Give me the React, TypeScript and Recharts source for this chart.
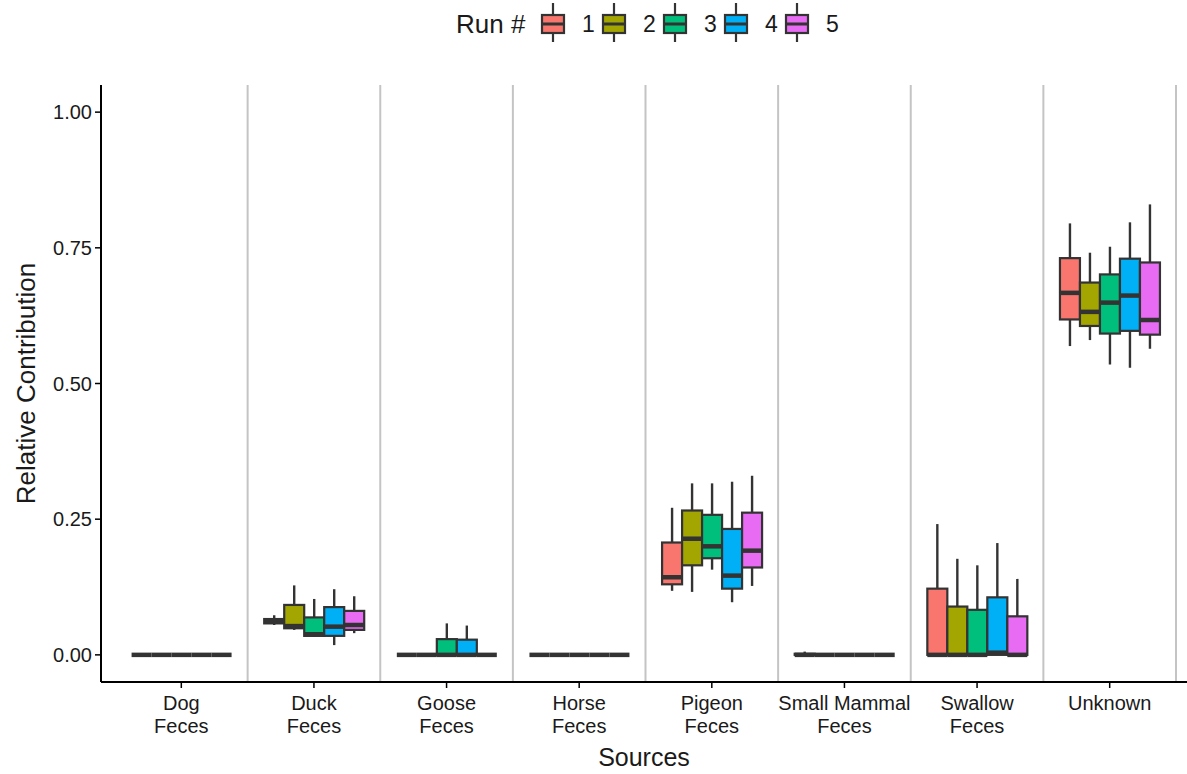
import React from "react";
import { ComposedChart, Bar, XAxis, YAxis, ReferenceLine } from "recharts";

const sources = [
  "Dog\nFeces",
  "Duck\nFeces",
  "Goose\nFeces",
  "Horse\nFeces",
  "Pigeon\nFeces",
  "Small Mammal\nFeces",
  "Swallow\nFeces",
  "Unknown",
];

const runs = ["1", "2", "3", "4", "5"];
const runColors = ["#F8766D", "#A3A500", "#00BF7D", "#00B0F6", "#E76BF3"];

// [min, q1, median, q3, max] per source, one list per run
const run1 = [
  [0, 0, 0, 0, 0],
  [0.055, 0.058, 0.062, 0.066, 0.073],
  [0, 0, 0, 0, 0],
  [0, 0, 0, 0, 0],
  [0.118, 0.13, 0.143, 0.207, 0.271],
  [0, 0, 0, 0.002, 0.006],
  [0, 0, 0, 0.122, 0.241],
  [0.569, 0.618, 0.667, 0.731, 0.795],
];
const run2 = [
  [0, 0, 0, 0, 0],
  [0.046, 0.049, 0.053, 0.092, 0.128],
  [0, 0, 0, 0, 0],
  [0, 0, 0, 0, 0],
  [0.116, 0.165, 0.214, 0.266, 0.316],
  [0, 0, 0, 0, 0],
  [0, 0, 0, 0.089, 0.177],
  [0.58, 0.606, 0.632, 0.686, 0.741],
];
const run3 = [
  [0, 0, 0, 0, 0],
  [0.033, 0.035, 0.038, 0.069, 0.103],
  [0, 0, 0, 0.029, 0.058],
  [0, 0, 0, 0, 0],
  [0.157, 0.178, 0.2, 0.258, 0.316],
  [0, 0, 0, 0, 0],
  [0, 0, 0, 0.083, 0.165],
  [0.535, 0.592, 0.649, 0.701, 0.752],
];
const run4 = [
  [0, 0, 0, 0, 0],
  [0.018, 0.035, 0.052, 0.088, 0.121],
  [0, 0, 0, 0.028, 0.054],
  [0, 0, 0, 0, 0],
  [0.097, 0.122, 0.146, 0.232, 0.319],
  [0, 0, 0, 0, 0],
  [0, 0, 0.004, 0.106, 0.206],
  [0.529, 0.597, 0.662, 0.73, 0.797],
];
const run5 = [
  [0, 0, 0, 0, 0],
  [0.04, 0.046, 0.055, 0.081, 0.108],
  [0, 0, 0, 0, 0],
  [0, 0, 0, 0, 0],
  [0.127, 0.161, 0.192, 0.262, 0.33],
  [0, 0, 0, 0, 0],
  [0, 0, 0, 0.071, 0.14],
  [0.564, 0.59, 0.617, 0.723, 0.83],
];

const runStats = [run1, run2, run3, run4, run5];
const yTicks = [0, 0.25, 0.5, 0.75, 1];
const Y_MIN = -0.05;
const Y_MAX = 1.05;

const EDGE = "#333333";
const TEXT = "#1a1a1a";
const FONT = "'Liberation Sans', Arial, Helvetica, sans-serif";

const data = sources.map((source, i) => {
  const row: Record<string, any> = { source };
  runStats.forEach((stats, r) => {
    row[`r${r}`] = stats[i];
  });
  return row;
});

function BoxShape(props: any) {
  const { x, y, width, height, payload, run, fill } = props;
  const [mn, q1, md, q3, mx] = payload[`r${run}`] as number[];
  const span = mx - Y_MIN;
  const py = (v: number) => y + (height * (mx - v)) / span;
  const cx = x + width / 2;
  const top = py(q3);
  const bottom = py(q1);
  return (
    <g>
      {mx > q3 && <line x1={cx} x2={cx} y1={py(mx)} y2={top} stroke={EDGE} strokeWidth={2.4} />}
      {q1 > mn && <line x1={cx} x2={cx} y1={bottom} y2={py(mn)} stroke={EDGE} strokeWidth={2.4} />}
      {bottom - top > 0.5 && (
        <rect x={x} y={top} width={width} height={bottom - top} fill={fill} stroke={EDGE} strokeWidth={2.2} />
      )}
      <line x1={x} x2={x + width} y1={py(md)} y2={py(md)} stroke={EDGE} strokeWidth={4.5} />
    </g>
  );
}

function SourceTick({ x, y, payload }: any) {
  const lines = String(payload.value).split("\n");
  return (
    <text x={x} y={y} textAnchor="middle" fontSize={20} fill={TEXT} fontFamily={FONT}>
      {lines.map((l, k) => (
        <tspan key={k} x={x} dy={k === 0 ? 20 : 23}>
          {l}
        </tspan>
      ))}
    </text>
  );
}

function YTitle({ viewBox }: any) {
  const cy = viewBox.y + viewBox.height / 2;
  return (
    <text
      x={26}
      y={cy}
      transform={`rotate(-90, 26, ${cy})`}
      textAnchor="middle"
      dominantBaseline="central"
      fontSize={26}
      fill={TEXT}
      fontFamily={FONT}
    >
      Relative Contribution
    </text>
  );
}

function RunLegend() {
  return (
    <svg width={1187} height={50} style={{ position: "absolute", left: 0, top: 0 }}>
      <text x={456} y={33} fontSize={26} fill={TEXT} fontFamily={FONT}>
        Run #
      </text>
      {runs.map((r, i) => {
        const kx = 542 + i * 61;
        return (
          <g key={r}>
            <line x1={kx + 11} x2={kx + 11} y1={3} y2={42} stroke={EDGE} strokeWidth={2.2} />
            <rect x={kx} y={15} width={22} height={18} fill={runColors[i]} stroke={EDGE} strokeWidth={2.2} />
            <line x1={kx} x2={kx + 22} y1={24} y2={24} stroke={EDGE} strokeWidth={3} />
            <text x={kx + 40} y={32} fontSize={23} fill={TEXT} fontFamily={FONT}>
              {r}
            </text>
          </g>
        );
      })}
    </svg>
  );
}

export default function App() {
  return (
    <div
      style={{
        position: "absolute",
        left: 0,
        top: 0,
        width: 1187,
        height: 774,
        background: "#ffffff",
        fontFamily: FONT,
        overflow: "hidden",
      }}
    >
      <ComposedChart
        width={1187}
        height={774}
        data={data}
        margin={{ top: 85, right: 0, bottom: 0, left: 0 }}
        barCategoryGap="12.5%"
        barGap={0}
      >
        {sources.map((s) => (
          <ReferenceLine key={s} x={s} position="end" stroke="#c4c4c4" strokeWidth={2} />
        ))}
        <XAxis
          dataKey="source"
          height={92}
          padding={{ left: 14, right: 11 }}
          interval={0}
          tickSize={6}
          tickMargin={2}
          axisLine={{ stroke: "#000", strokeWidth: 2 }}
          tickLine={{ stroke: "#000", strokeWidth: 1.5 }}
          tick={<SourceTick />}
          label={{ value: "Sources", position: "insideBottom", offset: 8, fontSize: 25, fill: TEXT }}
        />
        <YAxis
          type="number"
          width={101}
          domain={[Y_MIN, Y_MAX]}
          ticks={yTicks}
          interval={0}
          allowDataOverflow
          tickFormatter={(v: number) => v.toFixed(2)}
          tickSize={6}
          tickMargin={3}
          axisLine={{ stroke: "#000", strokeWidth: 2 }}
          tickLine={{ stroke: "#000", strokeWidth: 1.5 }}
          tick={{ fontSize: 20, fill: TEXT }}
          label={<YTitle />}
        />
        {runs.map((r, i) => (
          <Bar
            key={r}
            name={r}
            dataKey={(d: any) => [Y_MIN, d[`r${i}`][4]]}
            fill={runColors[i]}
            isAnimationActive={false}
            shape={(p: any) => <BoxShape {...p} run={i} fill={runColors[i]} />}
          />
        ))}
      </ComposedChart>
      <RunLegend />
    </div>
  );
}
